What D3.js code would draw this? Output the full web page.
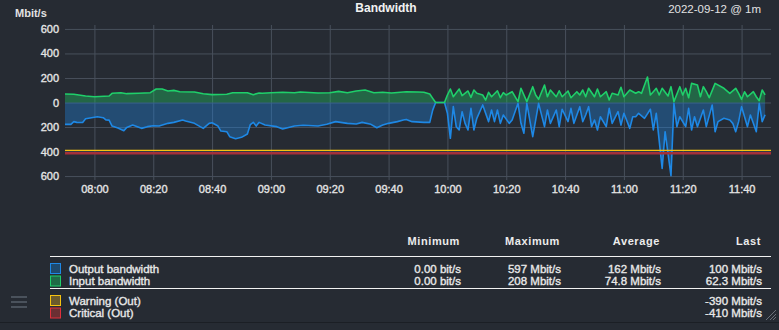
<!DOCTYPE html>
<html>
<head>
<meta charset="utf-8">
<script src="https://cdn.jsdelivr.net/npm/d3@7"></script>
<style>
  body { margin: 0; background: #262b33; }
  svg { display: block; font-family: "Liberation Sans", Arial, sans-serif; }
</style>
</head>
<body>
<div id="chart"></div>
<script>
// [time, Mbit/s], 2022-09-12
var inputData = [
  ["07:50", 69], ["07:53", 67], ["07:57", 53], ["08:00", 47], ["08:05", 53], ["08:06", 75],
  ["08:09", 80], ["08:11", 72], ["08:15", 75], ["08:19", 80], ["08:21", 110], ["08:23", 110],
  ["08:25", 94], ["08:27", 99], ["08:29", 88], ["08:34", 86], ["08:37", 72], ["08:40", 64],
  ["08:45", 67], ["08:47", 80], ["08:52", 80], ["08:54", 64], ["08:56", 78], ["08:57", 75],
  ["09:00", 80], ["09:04", 83], ["09:08", 80], ["09:10", 86], ["09:16", 78], ["09:20", 80],
  ["09:23", 91], ["09:26", 80], ["09:29", 94], ["09:32", 102], ["09:35", 80], ["09:38", 83],
  ["09:41", 78], ["09:46", 88], ["09:50", 86], ["09:52", 83], ["09:54", 69], ["09:55", 34],
  ["09:56", 0], ["09:59", 0], ["10:00", 61], ["10:01", 110], ["10:02", 47], ["10:04", 110],
  ["10:05", 56], ["10:07", 94], ["10:08", 42], ["10:09", 102], ["10:10", 75], ["10:12", 61],
  ["10:13", 20], ["10:14", 83], ["10:15", 47], ["10:17", 96], ["10:18", 39], ["10:19", 80],
  ["10:20", 61], ["10:22", 88], ["10:24", 7], ["10:25", 116], ["10:27", 7], ["10:29", 129],
  ["10:30", 61], ["10:31", 26], ["10:33", 143], ["10:34", 47], ["10:35", 102], ["10:37", 47],
  ["10:38", 96], ["10:39", 47], ["10:41", 94], ["10:42", 39], ["10:44", 88], ["10:45", 61],
  ["10:46", 102], ["10:47", 47], ["10:48", 116], ["10:50", 47], ["10:51", 110], ["10:52", 47],
  ["10:54", 88], ["10:55", 20], ["10:56", 75], ["10:58", 61], ["10:59", 124], ["11:00", 47],
  ["11:02", 102], ["11:04", 75], ["11:05", 88], ["11:06", 75], ["11:08", 208], ["11:09", 61],
  ["11:10", 88], ["11:11", 116], ["11:12", 61], ["11:13", 116], ["11:15", 53], ["11:16", 129],
  ["11:17", 7], ["11:19", 129], ["11:20", 61], ["11:21", 116], ["11:22", 39], ["11:23", 156],
  ["11:25", 143], ["11:26", 47], ["11:27", 129], ["11:28", 88], ["11:29", 39], ["11:31", 156],
  ["11:34", 116], ["11:36", 75], ["11:38", 116], ["11:39", 75], ["11:40", 26], ["11:41", 88],
  ["11:42", 47], ["11:44", 88], ["11:45", 47], ["11:46", 15], ["11:47", 102], ["11:48", 62.3]
];

var outputData = [
  ["07:50", 178], ["07:52", 178], ["07:53", 156], ["07:54", 162], ["07:56", 163], ["07:57", 132],
  ["08:01", 116], ["08:03", 124], ["08:04", 143], ["08:05", 144], ["08:06", 192], ["08:08", 208],
  ["08:10", 230], ["08:11", 203], ["08:13", 184], ["08:16", 211], ["08:18", 197], ["08:20", 189],
  ["08:22", 192], ["08:25", 170], ["08:27", 162], ["08:30", 143], ["08:31", 151], ["08:34", 170],
  ["08:37", 211], ["08:39", 170], ["08:40", 165], ["08:42", 192], ["08:43", 233], ["08:45", 238],
  ["08:46", 279], ["08:48", 295], ["08:50", 284], ["08:52", 257], ["08:53", 180], ["08:54", 162],
  ["08:55", 192], ["08:56", 162], ["08:58", 184], ["09:02", 197], ["09:04", 216], ["09:08", 192],
  ["09:11", 186], ["09:16", 192], ["09:19", 178], ["09:22", 156], ["09:26", 170], ["09:29", 175],
  ["09:31", 162], ["09:34", 178], ["09:36", 206], ["09:38", 184], ["09:40", 170], ["09:43", 156],
  ["09:45", 143], ["09:46", 138], ["09:48", 156], ["09:52", 162], ["09:54", 162], ["09:55", 62],
  ["09:56", 0], ["09:59", 0], ["10:00", 88], ["10:01", 292], ["10:02", 34], ["10:03", 197],
  ["10:04", 224], ["10:05", 75], ["10:06", 170], ["10:07", 224], ["10:08", 48], ["10:09", 224],
  ["10:10", 129], ["10:12", 20], ["10:14", 156], ["10:15", 61], ["10:16", 156], ["10:17", 61],
  ["10:18", 170], ["10:19", 102], ["10:21", 170], ["10:22", 143], ["10:24", 7], ["10:25", 170],
  ["10:26", 251], ["10:27", 7], ["10:29", 279], ["10:30", 143], ["10:31", 7], ["10:33", 197],
  ["10:34", 61], ["10:35", 170], ["10:37", 61], ["10:38", 197], ["10:39", 55], ["10:41", 156],
  ["10:42", 48], ["10:43", 170], ["10:45", 34], ["10:46", 156], ["10:47", 102], ["10:48", 34],
  ["10:49", 197], ["10:50", 143], ["10:51", 224], ["10:52", 116], ["10:54", 197], ["10:55", 48],
  ["10:56", 170], ["10:58", 75], ["10:59", 184], ["11:00", 88], ["11:02", 211], ["11:03", 116],
  ["11:04", 116], ["11:05", 88], ["11:07", 129], ["11:09", 55], ["11:10", 224], ["11:11", 88],
  ["11:13", 537], ["11:14", 238], ["11:16", 597], ["11:17", 7], ["11:18", 197], ["11:19", 116],
  ["11:21", 197], ["11:22", 48], ["11:23", 224], ["11:24", 116], ["11:25", 197], ["11:27", 61],
  ["11:28", 197], ["11:30", 20], ["11:31", 238], ["11:32", 156], ["11:34", 129], ["11:36", 143],
  ["11:37", 170], ["11:38", 238], ["11:39", 156], ["11:40", 34], ["11:42", 197], ["11:43", 102],
  ["11:44", 170], ["11:45", 238], ["11:46", 7], ["11:47", 156], ["11:48", 100]
];

var yTicks = [-600, -400, -200, 0, 200, 400, 600];
var thresholds = [
  { name: "Warning (Out)", value: -390, color: "#f5c211", fill: "#6b5a2c" },
  { name: "Critical (Out)", value: -410, color: "#e0303c", fill: "#6b2f33" }
];
var statHeaders = ["Minimum", "Maximum", "Average", "Last"];
var seriesRows = [
  { name: "Output bandwidth", color: "#1e88e5", fill: "#1f4a6e",
    stats: ["0.00 bit/s", "597 Mbit/s", "162 Mbit/s", "100 Mbit/s"] },
  { name: "Input bandwidth", color: "#1fcf6a", fill: "#1f6b46",
    stats: ["0.00 bit/s", "208 Mbit/s", "74.8 Mbit/s", "62.3 Mbit/s"] }
];
var thresholdLast = ["-390 Mbit/s", "-410 Mbit/s"];

var W = 779, H = 330;
var margin = { top: 25, right: 8, left: 65 },
    plotW = 771 - margin.left,
    plotH = 155;

var parse = d3.timeParse("%Y-%m-%d %H:%M");
function t(s) { return parse("2022-09-12 " + s); }

var svg = d3.select("#chart").append("svg")
    .attr("width", W)
    .attr("height", H);

var x = d3.scaleTime()
    .domain([t("07:50"), t("11:50")])
    .range([margin.left, margin.left + plotW]);

var y = d3.scaleLinear()
    .domain([-632, 632])
    .range([margin.top + plotH, margin.top]);

// grid + axes
var yAxis = svg.append("g")
    .attr("transform", "translate(" + margin.left + ",0)")
    .call(d3.axisLeft(y)
        .tickValues(yTicks)
        .tickSize(-plotW)
        .tickPadding(6)
        .tickFormat(function (d) { return Math.abs(d); }));

var xAxis = svg.append("g")
    .attr("transform", "translate(0," + (margin.top + plotH) + ")")
    .call(d3.axisBottom(x)
        .ticks(d3.timeMinute.every(20))
        .tickSize(-plotH)
        .tickPadding(5)
        .tickFormat(d3.timeFormat("%H:%M")));

[xAxis, yAxis].forEach(function (a) {
    a.select(".domain").remove();
    a.selectAll("line").attr("stroke", "#48505c");
    a.selectAll("text")
        .attr("fill", "#e2e2e2")
        .style("font-size", "11px");
});
xAxis.selectAll("text").filter(function (d) { return +d === +t("07:50") || +d === +t("11:50"); }).remove();

// series
var series = [
  { data: outputData, sign: -1, row: seriesRows[0] },
  { data: inputData, sign: 1, row: seriesRows[1] }
];

series.forEach(function (s) {
    var area = d3.area()
        .x(function (d) { return x(t(d[0])); })
        .y0(y(0))
        .y1(function (d) { return y(s.sign * d[1]); });
    var line = d3.line()
        .x(function (d) { return x(t(d[0])); })
        .y(function (d) { return y(s.sign * d[1]); });

    svg.append("path")
        .datum(s.data)
        .attr("d", area)
        .attr("fill", s.row.color)
        .attr("fill-opacity", 0.36);

    svg.append("path")
        .datum(s.data)
        .attr("d", line)
        .attr("fill", "none")
        .attr("stroke", s.row.color)
        .attr("stroke-width", 1.6)
        .attr("stroke-linejoin", "round");
});

// threshold lines
svg.append("line")
    .attr("x1", margin.left).attr("x2", margin.left + plotW)
    .attr("y1", y(thresholds[1].value) + 0.5).attr("y2", y(thresholds[1].value) + 0.5)
    .attr("stroke", "#a3303b").attr("stroke-width", 2.5);
svg.append("line")
    .attr("x1", margin.left).attr("x2", margin.left + plotW)
    .attr("y1", y(thresholds[0].value)).attr("y2", y(thresholds[0].value))
    .attr("stroke", thresholds[0].color).attr("stroke-width", 1.2);

// titles
svg.append("text")
    .attr("x", 386).attr("y", 12)
    .attr("text-anchor", "middle")
    .attr("fill", "#f2f2f2")
    .style("font-size", "12px").style("font-weight", "bold")
    .text("Bandwidth");

svg.append("text")
    .attr("x", 761).attr("y", 13)
    .attr("text-anchor", "end")
    .attr("fill", "#e2e2e2")
    .style("font-size", "11.5px")
    .text("2022-09-12 @ 1m");

svg.append("text")
    .attr("x", 15).attr("y", 17)
    .attr("fill", "#e2e2e2")
    .style("font-size", "11px").style("font-weight", "bold")
    .text("Mbit/s");

// legend table
var colRight = [460, 560, 660, 761];

svg.selectAll(".hdr")
    .data(statHeaders)
    .enter().append("text")
    .attr("x", function (d, i) { return colRight[i]; })
    .attr("y", 245)
    .attr("text-anchor", "end")
    .attr("fill", "#ececec")
    .style("font-size", "11px").style("font-weight", "bold")
    .style("letter-spacing", "0.6px")
    .text(function (d) { return d; });

[256.5, 288.5].forEach(function (ly) {
    svg.append("line")
        .attr("x1", 50).attr("x2", 771)
        .attr("y1", ly).attr("y2", ly)
        .attr("stroke", "#f2f2f2").attr("stroke-width", 1);
});

var rows = seriesRows.map(function (r) {
    return { name: r.name, color: r.color, fill: r.fill, stats: r.stats };
}).concat(thresholds.map(function (th, i) {
    return { name: th.name, color: th.color, fill: th.fill, stats: ["", "", "", thresholdLast[i]] };
}));
var rowY = [268.5, 281, 300.5, 313];

rows.forEach(function (r, i) {
    var cy = rowY[i];
    svg.append("rect")
        .attr("x", 50.5).attr("y", cy - 5)
        .attr("width", 10).attr("height", 10)
        .attr("fill", r.fill)
        .attr("stroke", r.color).attr("stroke-width", 1);
    svg.append("text")
        .attr("class", "body")
        .attr("x", 69).attr("y", cy + 4)
        .attr("fill", "#ececec")
        .style("font-size", "11.5px")
        .text(r.name);
    r.stats.forEach(function (v, j) {
        if (!v) return;
        svg.append("text")
            .attr("class", "body")
            .attr("x", colRight[j] + 1).attr("y", cy + 4)
            .attr("text-anchor", "end")
            .attr("fill", "#ececec")
            .style("font-size", "11.5px")
            .text(v);
    });
});

// heavier text like the original's rendering
svg.selectAll("text.body, .tick text")
    .attr("stroke", "#e6e6e6")
    .attr("stroke-width", 0.35);

// bottom border, menu icon, resize grip
svg.append("line")
    .attr("x1", 0).attr("x2", W)
    .attr("y1", 322.5).attr("y2", 322.5)
    .attr("stroke", "#1b1f25").attr("stroke-width", 1);

[297, 302, 307].forEach(function (hy) {
    svg.append("line")
        .attr("x1", 11).attr("x2", 27)
        .attr("y1", hy).attr("y2", hy)
        .attr("stroke", "#4a525c").attr("stroke-width", 2);
});

[[766, 320, 776, 310], [770, 320, 776, 314], [773, 320, 776, 317]].forEach(function (g) {
    svg.append("line")
        .attr("x1", g[0]).attr("y1", g[1]).attr("x2", g[2]).attr("y2", g[3])
        .attr("stroke", "#6b717a").attr("stroke-width", 1);
});
</script>
</body>
</html>
